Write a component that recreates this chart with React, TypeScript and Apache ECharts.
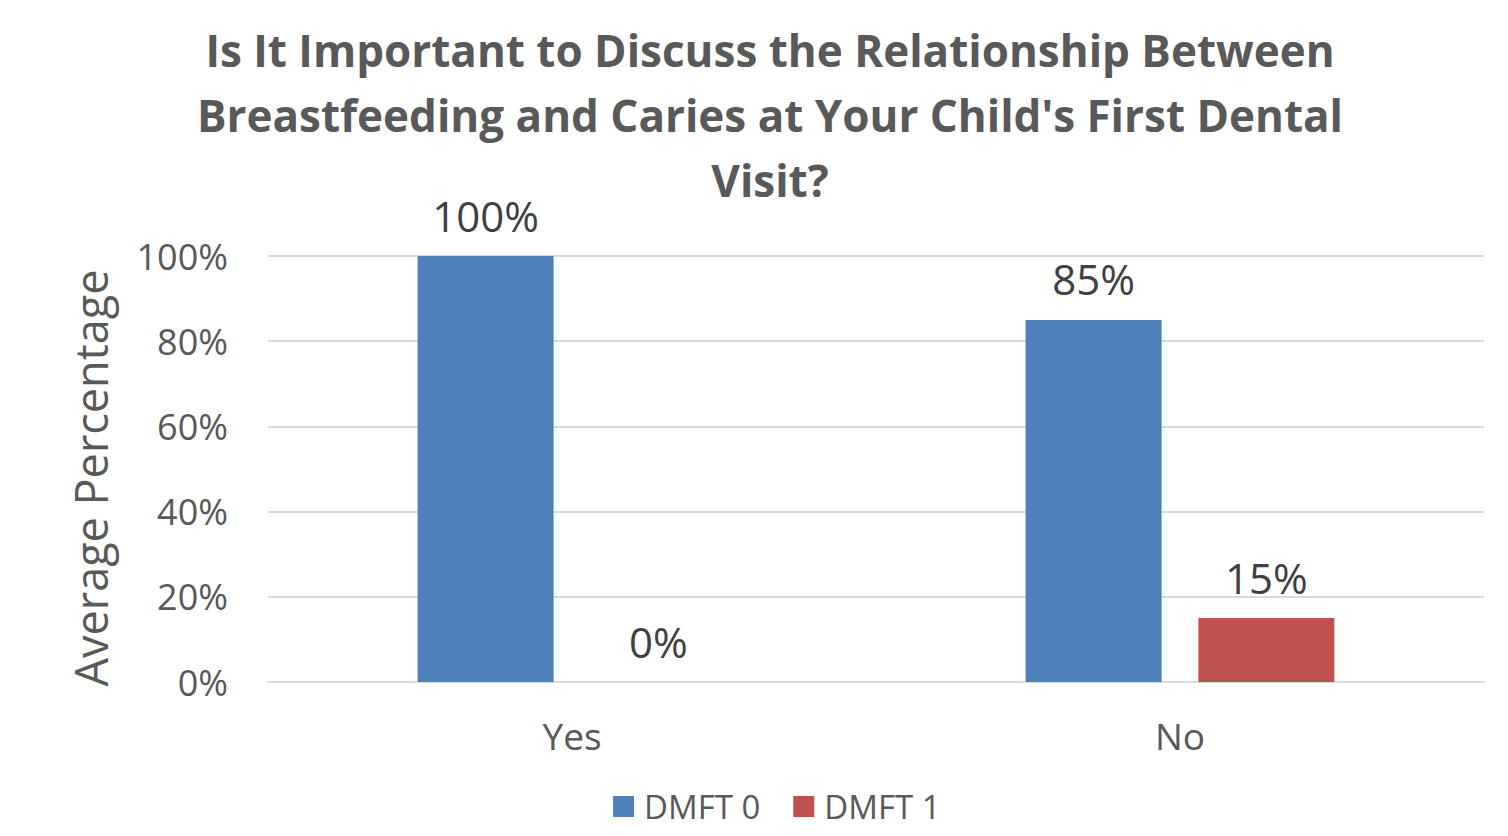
import React, { useEffect, useRef } from "react";
import * as echarts from "echarts";

const categories = ["Yes", "No"];
const dmft0 = [100, 85];
const dmft1 = [0, 15];
const seriesNames = ["DMFT 0", "DMFT 1"];
const titleText =
  "Is It Important to Discuss the Relationship Between\nBreastfeeding and Caries at Your Child's First Dental\nVisit?";

export default function App() {
  const ref = useRef<HTMLDivElement>(null);
  useEffect(() => {
    document.body.style.margin = "0";
    const chart = echarts.init(ref.current!, null, { renderer: "svg" });
    const font = "'Open Sans', 'Liberation Sans', sans-serif";
    const label = {
      show: true,
      position: "top",
      distance: 20,
      formatter: (p: any) => p.value + "%",
      fontSize: 42,
      color: "#404040",
      fontFamily: font,
    };
    chart.setOption({
      animation: false,
      textStyle: { fontFamily: font },
      title: {
        text: titleText,
        left: 765,
        top: 12,
        textAlign: "center",
        textStyle: {
          fontSize: 44,
          fontWeight: "bold",
          color: "#595959",
          lineHeight: 65,
          fontFamily: font,
        },
      },
      legend: {
        bottom: 8,
        left: 608,
        itemWidth: 21,
        itemHeight: 21,
        itemGap: 33,
        icon: "rect",
        textStyle: {
          fontSize: 33,
          color: "#595959",
          fontFamily: font,
          padding: [0, 0, 0, 5],
        },
        data: seriesNames,
      },
      grid: { left: 268, right: 24, top: 256, bottom: 154 },
      xAxis: {
        type: "category",
        data: categories,
        axisLine: { lineStyle: { color: "#D9D9D9", width: 2 } },
        axisTick: { show: false },
        axisLabel: { fontSize: 37, color: "#595959", margin: 35, fontFamily: font },
      },
      yAxis: {
        type: "value",
        min: 0,
        max: 100,
        interval: 20,
        name: "Average Percentage",
        nameLocation: "middle",
        nameGap: 155,
        nameTextStyle: {
          fontSize: 45,
          color: "#595959",
          fontFamily: font,
          padding: [0, 18, 0, 0],
        },
        axisLabel: {
          formatter: "{value}%",
          fontSize: 36,
          color: "#595959",
          margin: 40,
          fontFamily: font,
        },
        splitLine: { lineStyle: { color: "#D9D9D9", width: 2 } },
        axisLine: { show: false },
        axisTick: { show: false },
      },
      series: [
        {
          name: seriesNames[0],
          type: "bar",
          data: dmft0,
          barWidth: 136,
          barGap: "27%",
          itemStyle: { color: "#4F81BD" },
          label,
        },
        {
          name: seriesNames[1],
          type: "bar",
          data: dmft1,
          barWidth: 136,
          itemStyle: { color: "#C0504D" },
          label,
        },
      ],
    });
    return () => chart.dispose();
  }, []);
  return <div ref={ref} style={{ width: 1508, height: 836 }} />;
}
